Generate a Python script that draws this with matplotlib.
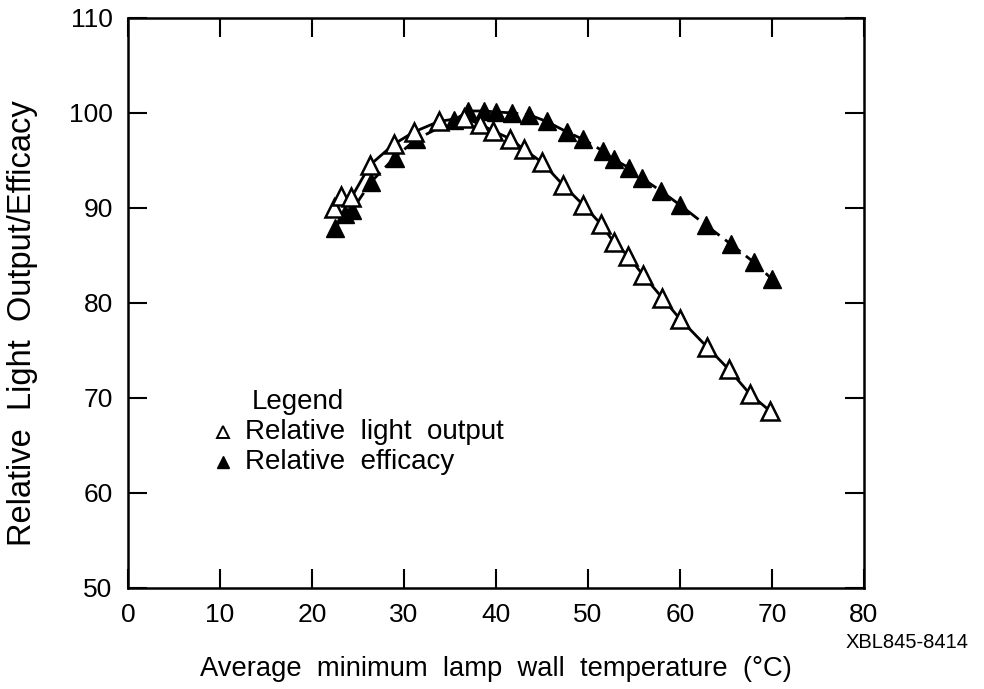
import numpy as np
import matplotlib.pyplot as plt

plt.rcParams['font.family'] = ['Liberation Sans', 'DejaVu Sans']

# relative light output (open triangles)
light_temp = [22.4, 23.2, 24.3, 26.3, 28.9, 31.1, 33.8, 36.5, 38.3, 39.7, 41.5,
              43.0, 45.0, 47.3, 49.5, 51.4, 52.8, 54.4, 56.0, 58.1, 60.0, 62.9,
              65.3, 67.6, 69.8]
light_out = [90.0, 91.2, 91.1, 94.5, 96.7, 98.0, 99.1, 99.5, 98.8, 98.1, 97.3,
             96.2, 94.8, 92.4, 90.3, 88.3, 86.4, 84.9, 82.9, 80.5, 78.3, 75.4,
             73.0, 70.4, 68.6]

# relative efficacy (filled triangles)
eff_temp = [22.5, 23.6, 24.4, 26.4, 29.0, 31.3, 35.4, 37.0, 38.7, 40.0, 41.7,
            43.6, 45.5, 47.7, 49.5, 51.6, 52.8, 54.5, 55.9, 57.9, 60.0, 62.8,
            65.5, 68.0, 70.0]
efficacy = [87.9, 89.3, 89.8, 92.7, 95.3, 97.2, 99.2, 100.2, 100.2, 100.1, 100.0,
            99.8, 99.1, 98.0, 97.2, 96.0, 95.1, 94.2, 93.1, 91.8, 90.3, 88.2,
            86.2, 84.3, 82.5]

xticks = np.arange(0, 81, 10)
yticks = np.arange(50, 111, 10)

fig = plt.figure(figsize=(9.84, 6.89), dpi=100)
ax = fig.add_axes([0.130, 0.147, 0.748, 0.827])

ax.plot(light_temp, light_out, color='black', lw=2, marker='^', ms=12.5,
        mfc='white', mec='black', mew=1.8, zorder=3)
ax.plot(eff_temp, efficacy, color='black', lw=2, ls=(0, (7, 2.5)), marker='^',
        ms=12.5, mfc='black', mec='black', zorder=2)

ax.set_xlim(0, 80)
ax.set_ylim(50, 110)
ax.set_xticks(xticks)
ax.set_yticks(yticks)
ax.tick_params(direction='in', length=14, width=1.5, labelsize=19,
               top=True, right=True, pad=11)
for s in ax.spines.values():
    s.set_linewidth(1.8)

ax.set_xlabel('Average  minimum  lamp  wall  temperature  (\u00b0C)', fontsize=19.7)
ax.xaxis.set_label_coords(0.5, -0.119)
ax.set_ylabel('Relative  Light  Output/Efficacy', fontsize=23.5)
ax.yaxis.set_label_coords(-0.122, 0.465)

# hand drawn legend inside the axes
ax.text(0.168, 0.326, 'Legend', transform=ax.transAxes, fontsize=20, va='center')
ax.plot([0.129], [0.274], transform=ax.transAxes, marker='^', ms=8.5, mfc='white',
        mec='black', mew=1.4, clip_on=False)
ax.text(0.159, 0.274, 'Relative  light  output', transform=ax.transAxes,
        fontsize=20, va='center')
ax.plot([0.129], [0.221], transform=ax.transAxes, marker='^', ms=8.5, mfc='black',
        mec='black', clip_on=False)
ax.text(0.159, 0.221, 'Relative  efficacy', transform=ax.transAxes,
        fontsize=20, va='center')

fig.text(0.859, 0.0668, 'XBL845-8414', fontsize=14.5, va='center')

fig.savefig('out.png', dpi=100)
